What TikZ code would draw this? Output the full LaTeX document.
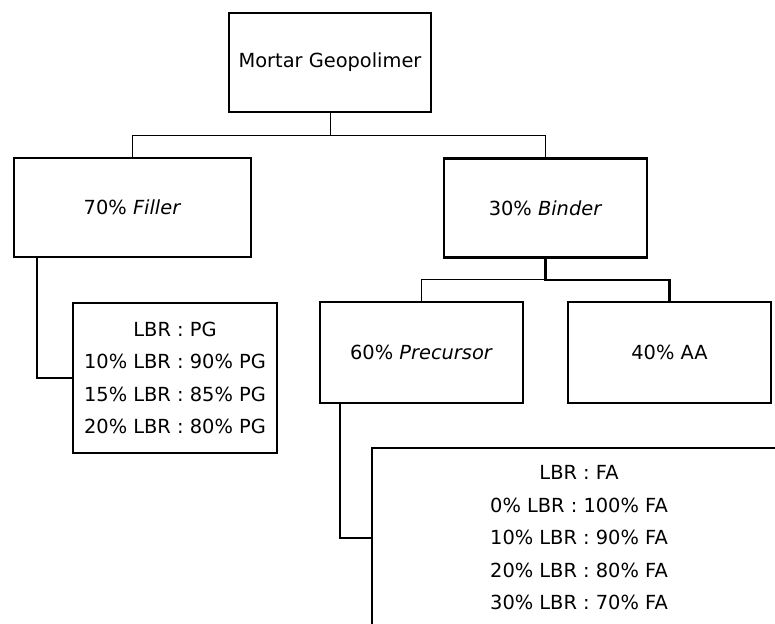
\documentclass[tikz,border=0pt]{standalone}
\usepackage{fontspec}
\setmainfont{DejaVu Sans}
\usepackage{tikz}
\usetikzlibrary{calc, positioning}

\begin{document}
\begin{tikzpicture} [x = 1pt, y = -1pt,
        kotak/.style = {draw, line width = 2.5pt, align = center, inner sep = 0pt,
            font = \fontsize{19.4}{32.5}\selectfont},
        tipis/.style = {line width = 1pt},
        tebal/.style = {line width = 2.4pt}]
        \useasboundingbox (0,0) rectangle (775,623);
        \clip (0,0) rectangle (775,623);
        % kotak-kotak
        \node[kotak, minimum width = 202pt, minimum height = 99pt] (mortar) at (330,62.5) {Mortar Geopolimer};
        \node[kotak, minimum width = 237pt, minimum height = 99pt] (filler) at (132.5,207.5) {70\% \textit{Filler}};
        \node[kotak, minimum width = 203pt, minimum height = 99pt] (binder) at (545.5,208) {30\% \textit{Binder}};
        \node[kotak, minimum width = 203pt, minimum height = 101pt] (precursor) at (421.5,352.5) {60\% \textit{Precursor}};
        \node[kotak, minimum width = 203pt, minimum height = 101pt] (aa) at (669.5,352.5) {40\% AA};
        \node[kotak, minimum width = 204pt, minimum height = 150pt] (pg) at (175,378)
            {LBR : PG\\10\% LBR : 90\% PG\\15\% LBR : 85\% PG\\20\% LBR : 80\% PG};
        \node[kotak, minimum width = 414pt, minimum height = 180pt] (fa) at (579,538)
            {LBR : FA\\0\% LBR : 100\% FA\\10\% LBR : 90\% FA\\20\% LBR : 80\% FA\\30\% LBR : 70\% FA};
        % garis penghubung
        \draw[tipis] (mortar.south) -- ++(0,22) coordinate (j1);
        \draw[tipis] (filler.north) |- (j1) -| (binder.north);
        \draw[tebal] (binder.south) -- ++(0,21) coordinate (j2) -| (aa.north);
        \draw[tipis] (j2) -| (precursor.north);
        \draw[tebal] ($(filler.south west)+(24,0)$) |- (pg.west);
        \draw[tebal] ($(precursor.south west)+(21,0)$) |- (fa.west);
    \end{tikzpicture}
\end{document}
